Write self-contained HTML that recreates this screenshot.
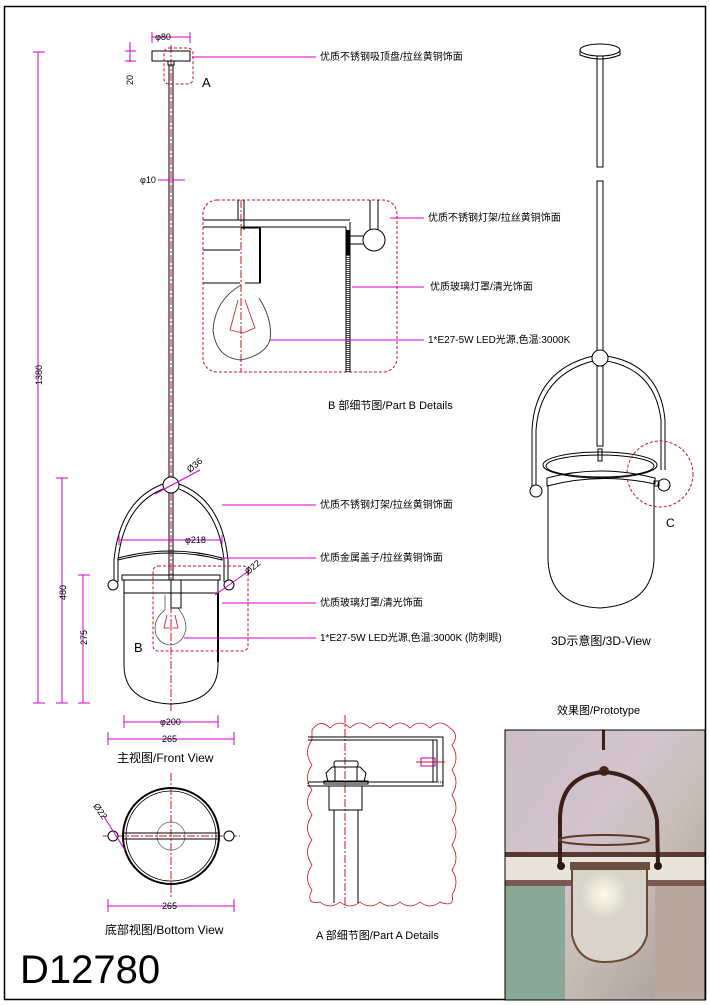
<!DOCTYPE html>
<html><head><meta charset="utf-8"><style>
body{margin:0;background:#fff}
svg{display:block}
text{font-family:"Liberation Sans","Noto Sans CJK SC",sans-serif;fill:#000}
.m{stroke:#d000d0;stroke-width:1;fill:none}
.k{stroke:#000;stroke-width:1;fill:none}
.r{stroke:#d01020;stroke-width:1;fill:none;stroke-dasharray:3,2}
.c{stroke:#d01020;stroke-width:1;fill:none;stroke-dasharray:8,2,2,2}
</style></head><body>
<svg width="710" height="1005" viewBox="0 0 710 1005">
<defs>
<linearGradient id="ph" x1="0" y1="0" x2="1" y2="1">
<stop offset="0" stop-color="#cfc0c8"/><stop offset="0.4" stop-color="#d8c8d0"/><stop offset="0.6" stop-color="#c8c0b0"/><stop offset="1" stop-color="#9a8a80"/>
</linearGradient>
<radialGradient id="gl" cx="0.5" cy="0.5" r="0.5"><stop offset="0" stop-color="#fffbe8"/><stop offset="1" stop-color="#fffbe8" stop-opacity="0"/></radialGradient>
</defs>
<rect x="4.5" y="6.5" width="701" height="993" fill="none" stroke="#000" stroke-width="1.5"/>

<!-- FRONT VIEW -->
<line class="c" x1="171" y1="45" x2="171" y2="712"/>
<rect class="k" x="152" y="51" width="38" height="10"/>
<rect class="k" x="168" y="61" width="6" height="4"/>
<line class="k" x1="169" y1="65" x2="169" y2="478"/><line class="k" x1="173" y1="65" x2="173" y2="478"/>
<rect class="r" x="164" y="48" width="29" height="36" rx="5"/>
<text x="202" y="87" font-size="13">A</text>
<!-- arms -->
<path class="k" d="M163 484 Q120 500 114 560 L114 582 M179 484 Q222 500 228 560 L228 582"/>
<path class="k" d="M163 489 Q124 505 118 560 L118 582 M179 489 Q218 505 224 560 L224 582"/>
<circle cx="171" cy="485" r="8" fill="#fff" stroke="#000"/>
<line class="k" x1="169" y1="493" x2="169" y2="580"/><line class="k" x1="173" y1="493" x2="173" y2="580"/>
<path class="k" d="M118 560 Q171 546 222 560 L222 558 Q171 544 118 558 Z"/>
<rect class="k" x="122" y="575" width="98" height="5"/>
<rect class="k" x="124" y="580" width="94" height="13"/>
<circle cx="113" cy="585" r="5" fill="#fff" stroke="#000"/>
<circle cx="229" cy="585" r="5" fill="#fff" stroke="#000"/>
<path class="k" d="M124 593 L124 665 Q124 702 171 704 Q218 702 218 665 L218 593"/>
<line x1="218" y1="593" x2="218" y2="662" stroke="#000" stroke-width="2"/>
<rect class="k" x="171" y="580" width="10" height="28"/>
<path d="M165 595 L165 610 Q152 620 156 635 Q161 645 171 645 Q184 643 186 628 Q186 618 178 608" fill="none" stroke="#555" stroke-width="0.8"/>
<path d="M167 615 L164 628 L178 628 L175 615" fill="none" stroke="#d01020" stroke-width="0.8"/>
<rect class="r" x="153" y="566" width="95" height="85" rx="5"/>
<text x="134" y="652" font-size="13">B</text>

<!-- dims front -->
<g class="m">
<line x1="38" y1="52" x2="38" y2="703"/><line x1="33" y1="52" x2="45" y2="52"/><line x1="33" y1="703" x2="45" y2="703"/>
<line x1="62" y1="478" x2="62" y2="703"/><line x1="56" y1="478" x2="68" y2="478"/><line x1="56" y1="703" x2="68" y2="703"/>
<line x1="83" y1="575" x2="83" y2="703"/><line x1="78" y1="575" x2="90" y2="575"/><line x1="78" y1="703" x2="90" y2="703"/>
<line x1="124" y1="722" x2="218" y2="722"/><line x1="124" y1="715" x2="124" y2="728"/><line x1="218" y1="715" x2="218" y2="728"/>
<line x1="108" y1="739" x2="234" y2="739"/><line x1="108" y1="732" x2="108" y2="745"/><line x1="234" y1="732" x2="234" y2="745"/>
<line x1="119" y1="540" x2="222" y2="540"/><line x1="119" y1="535" x2="119" y2="545"/><line x1="222" y1="535" x2="222" y2="545"/>
<line x1="152" y1="37" x2="190" y2="37"/><line x1="152" y1="32" x2="152" y2="43"/><line x1="190" y1="32" x2="190" y2="43"/>
<line x1="130" y1="42" x2="130" y2="62"/><line x1="125" y1="51" x2="136" y2="51"/><line x1="125" y1="61" x2="136" y2="61"/>
<line x1="158" y1="180" x2="185" y2="180"/>
<line x1="155" y1="494" x2="200" y2="470"/>
<line x1="215" y1="595" x2="250" y2="570"/>
<line x1="192" y1="57" x2="316" y2="57"/>
<line x1="222" y1="505" x2="316" y2="505"/>
<line x1="222" y1="558" x2="316" y2="558"/>
<line x1="222" y1="603" x2="316" y2="603"/>
<line x1="184" y1="638" x2="316" y2="638"/>
</g>
<g font-size="9">
<text x="163" y="40" text-anchor="middle" font-size="9">φ80</text>
<text x="0" y="0" transform="translate(133,85) rotate(-90)">20</text>
<text x="140" y="183">φ10</text>
<text x="0" y="0" transform="translate(42,385) rotate(-90)">1380</text>
<text x="0" y="0" transform="translate(66,600) rotate(-90)">480</text>
<text x="0" y="0" transform="translate(87,645) rotate(-90)">275</text>
<text x="185" y="543">φ218</text>
<text x="160" y="725">φ200</text>
<text x="162" y="742">265</text>
<text x="0" y="0" transform="translate(190,473) rotate(-40)">Ø36</text>
<text x="0" y="0" transform="translate(248,575) rotate(-40)">Ø22</text>
</g>
<g font-size="10">
<text x="320" y="60">优质不锈钢吸顶盘/拉丝黄铜饰面</text>
<text x="320" y="508">优质不锈钢灯架/拉丝黄铜饰面</text>
<text x="320" y="561">优质金属盖子/拉丝黄铜饰面</text>
<text x="320" y="606">优质玻璃灯罩/清光饰面</text>
<text x="320" y="641">1*E27-5W LED光源,色温:3000K (防刺眼)</text>
</g>
<text x="117" y="762" font-size="12">主视图/Front View</text>

<!-- DETAIL B -->
<rect class="r" x="203" y="200" width="194" height="172" rx="14"/>
<line class="c" x1="241" y1="200" x2="241" y2="372"/>
<line class="k" x1="203" y1="220" x2="350" y2="220"/><line class="k" x1="203" y1="227" x2="346" y2="227"/>
<line class="k" x1="238" y1="200" x2="238" y2="220"/><line class="k" x1="244" y1="200" x2="244" y2="230"/>
<line class="k" x1="203" y1="250" x2="240" y2="250"/><line class="k" x1="203" y1="283" x2="240" y2="283"/>
<path class="k" d="M241 228 L260 228 L260 283 L245 283"/>
<line x1="260" y1="228" x2="260" y2="283" stroke="#000" stroke-width="2"/>
<path d="M241 285 Q215 300 213 330 Q216 358 241 360 Q265 355 270 340 Q273 320 259 298" fill="none" stroke="#444"/>
<path d="M238 300 L230 330 L243 333 L255 328 L245 300" fill="none" stroke="#d01020" stroke-width="0.8"/>
<path class="k" d="M346 227 L346 372 M350 222 L350 372"/>
<line x1="348" y1="235" x2="348" y2="372" stroke="#555" stroke-width="3" stroke-dasharray="1,1"/>
<line x1="348" y1="230" x2="348" y2="255" stroke="#000" stroke-width="3"/>
<path class="k" d="M370 200 L370 232 M378 200 L378 232 M350 236 L366 236 M350 244 L366 244"/>
<circle cx="374" cy="240" r="11" fill="#fff" stroke="#000"/>
<g class="m"><line x1="390" y1="218" x2="424" y2="218"/><line x1="352" y1="287" x2="424" y2="287"/><line x1="270" y1="340" x2="424" y2="340"/></g>
<g font-size="10">
<text x="428" y="221">优质不锈钢灯架/拉丝黄铜饰面</text>
<text x="430" y="290">优质玻璃灯罩/清光饰面</text>
<text x="428" y="343">1*E27-5W LED光源,色温:3000K</text>
</g>
<text x="328" y="409" font-size="11">B 部细节图/Part B Details</text>

<!-- 3D VIEW -->
<ellipse class="k" cx="600" cy="50" rx="20" ry="6"/>
<path class="k" d="M580 50 L580 55 Q600 63 620 55 L620 50"/>
<rect class="k" x="597" y="56" width="6" height="111"/>
<rect class="k" x="597" y="181" width="6" height="171"/>
<path class="k" d="M593 361 Q540 375 536 430 L536 487 M593 356 Q535 370 532 430 L532 488"/>
<path class="k" d="M607 361 Q655 370 661 420 L661 470 M607 356 Q660 365 665 420 L665 470"/>
<circle cx="600" cy="358" r="8" fill="#fff" stroke="#000"/>
<rect class="k" x="597" y="366" width="6" height="80"/>
<ellipse class="k" cx="600" cy="465" rx="57" ry="13"/>
<ellipse class="k" cx="600" cy="466" rx="54" ry="11"/>
<rect class="k" x="598" y="449" width="4" height="12"/>
<path class="k" d="M547 478 Q600 464 655 478 L655 484 Q600 472 547 486 Z"/>
<path class="k" d="M548 486 L548 560 Q550 606 600 608 Q652 605 654 560 L654 484"/>
<circle cx="536" cy="491" r="6" fill="#fff" stroke="#000"/>
<circle cx="664" cy="485" r="6" fill="#fff" stroke="#000"/>
<rect class="k" x="654" y="481" width="5" height="5"/>
<circle class="r" cx="660" cy="474" r="33"/>
<text x="666" y="527" font-size="12">C</text>
<text x="551" y="645" font-size="12">3D示意图/3D-View</text>

<!-- BOTTOM VIEW -->
<line class="c" x1="171" y1="773" x2="171" y2="898"/>
<line class="c" x1="103" y1="836" x2="240" y2="836"/>
<circle cx="171" cy="836" r="48" fill="none" stroke="#000" stroke-width="2"/>
<circle cx="171" cy="836" r="45" fill="none" stroke="#000" stroke-width="0.8"/>
<circle cx="171" cy="836" r="14" fill="none" stroke="#666" stroke-width="0.8"/>
<line class="k" x1="123" y1="833" x2="219" y2="833" stroke="#555"/><line class="k" x1="123" y1="839" x2="219" y2="839" stroke="#555"/>
<circle cx="113" cy="836" r="5" fill="#fff" stroke="#000"/>
<circle cx="229" cy="836" r="5" fill="#fff" stroke="#000"/>
<line class="m" x1="103" y1="815" x2="125" y2="850"/>
<text x="0" y="0" transform="translate(93,806) rotate(55)" font-size="9">Ø22</text>
<g class="m"><line x1="108" y1="906" x2="234" y2="906"/><line x1="108" y1="899" x2="108" y2="912"/><line x1="234" y1="899" x2="234" y2="912"/></g>
<text x="162" y="909" font-size="9">265</text>
<text x="105" y="934" font-size="12">底部视图/Bottom View</text>

<!-- DETAIL A -->
<path d="M312 730 Q320 718 330 728 Q340 718 350 728 Q360 718 370 728 Q380 718 390 728 Q400 718 410 728 Q420 718 430 728 Q440 718 450 728 Q460 735 452 745 Q460 758 452 770 Q460 782 452 795 Q460 808 452 820 Q460 832 452 845 Q460 858 452 870 Q460 882 452 895 Q455 908 440 902 Q430 910 420 902 Q410 910 400 902 Q390 910 380 902 Q370 910 360 902 Q350 910 340 902 Q330 910 320 902 Q305 905 312 890 Q303 878 312 865 Q303 852 312 840 Q303 828 312 815 Q303 802 312 790 Q303 778 312 765 Q303 752 312 740 Z" fill="none" stroke="#d01020" stroke-width="0.8"/>
<line class="c" x1="345" y1="715" x2="345" y2="908"/>
<path class="k" d="M308 737 L443 737 L443 786 L308 786 M308 740 L437 740 L437 782 L308 782"/>
<rect x="308" y="782" width="135" height="4" fill="none" stroke="#000" stroke-dasharray="1,1"/>
<rect class="k" x="433" y="740" width="4" height="42"/>
<rect x="421" y="758" width="14" height="8" fill="none" stroke="#b000b0"/>
<line x1="416" y1="762" x2="445" y2="762" stroke="#d01020"/>
<rect class="k" x="334" y="761" width="24" height="6" rx="2"/>
<path class="k" d="M328 782 L326 773 L332 767 L360 767 L366 773 L364 782 Z M335 767 L335 782 M357 767 L357 782"/>
<rect class="k" x="324" y="781" width="44" height="3"/>
<rect class="k" x="329" y="786" width="33" height="24"/>
<path class="k" d="M334 810 L334 903 M358 810 L358 903"/>
<text x="316" y="939" font-size="11">A 部细节图/Part A Details</text>

<!-- PROTOTYPE -->
<text x="557" y="714" font-size="11">效果图/Prototype</text>
<rect x="505" y="730" width="200" height="270" fill="url(#ph)"/>
<rect x="505" y="730" width="200" height="270" fill="#c8b8c4" opacity="0.3"/>
<rect x="505" y="855" width="200" height="25" fill="#e8e4da"/>
<rect x="505" y="852" width="200" height="5" fill="#5a3a30"/>
<rect x="505" y="880" width="200" height="6" fill="#7a5a50"/>
<rect x="505" y="886" width="60" height="114" fill="#8aa898"/>
<rect x="655" y="886" width="50" height="114" fill="#b8a8a0"/>
<rect x="602" y="730" width="3" height="20" fill="#3a2018"/>
<circle cx="604" cy="771" r="5" fill="#4a2a20"/>
<path d="M560 865 L560 820 Q560 775 604 772 Q648 775 657 820 L658 865" fill="none" stroke="#3a2018" stroke-width="4"/>
<ellipse cx="604" cy="840" rx="45" ry="5" fill="none" stroke="#5a3a28" stroke-width="2"/>
<path d="M572 866 L572 935 Q578 962 604 962 Q640 962 647 935 L647 866 Z" fill="#d8d4cc" stroke="#6a4a38" stroke-width="2"/>
<circle cx="604" cy="895" r="24" fill="url(#gl)"/>
<rect x="570" y="862" width="80" height="8" fill="#6a5040"/>
<circle cx="561" cy="866" r="4" fill="#2a1810"/><circle cx="658" cy="866" r="4" fill="#2a1810"/>
<rect x="505" y="730" width="200" height="270" fill="none" stroke="#000"/>

<text x="20" y="983" font-size="40">D12780</text>
</svg>
</body></html>
